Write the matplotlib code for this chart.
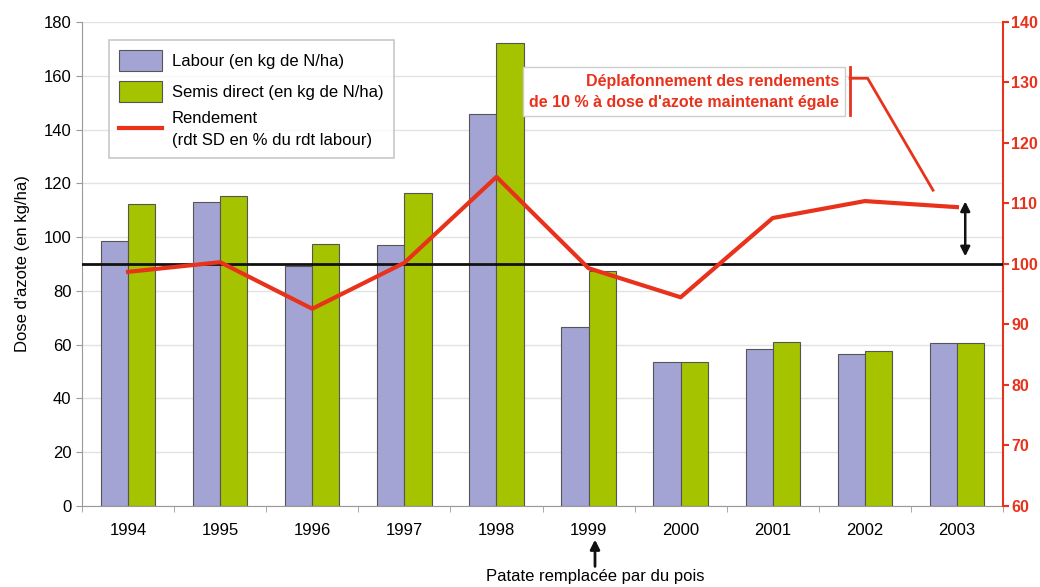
import matplotlib
matplotlib.use("Agg")
import matplotlib.pyplot as plt
import numpy as np

plt.rcParams['font.family'] = ['Liberation Sans', 'DejaVu Sans']

years = ['1994', '1995', '1996', '1997', '1998', '1999', '2000', '2001', '2002', '2003']
labour = [98.5, 113, 89.3, 97, 145.8, 66.6, 53.5, 58.4, 56.5, 60.6]
semis = [112.3, 115.3, 97.4, 116.4, 172.2, 87.4, 53.5, 61, 57.6, 60.6]
rendement = [98.7, 100.3, 92.6, 100.2, 114.4, 99.3, 94.5, 107.6, 110.4, 109.4]

c_lab = '#a4a4d4'
c_sem = '#a6c300'
c_red = '#e8321c'

fig = plt.figure(figsize=(10.4, 5.87), dpi=100)
ax = fig.add_axes([82/1040, 81/587, 921/1040, 484/587])
x = np.arange(len(years))
w = 0.295
ax.bar(x - w/2, labour, w, color=c_lab, edgecolor='#555555', linewidth=0.8, label='Labour (en kg de N/ha)', zorder=2)
ax.bar(x + w/2, semis, w, color=c_sem, edgecolor='#555555', linewidth=0.8, label='Semis direct (en kg de N/ha)', zorder=2)
ax.set_xlim(-0.5, len(years) - 0.5)
ax.set_ylim(0, 180)
ax.set_yticks(np.arange(0, 181, 20))
ax.set_xticks(x)
ax.set_xticklabels(years)
ax.set_xticks(np.arange(-0.5, len(years), 1), minor=True)
ax.tick_params(axis='x', which='major', length=0, pad=12, labelsize=12)
ax.tick_params(axis='x', which='minor', length=4, color='#999999')
ax.tick_params(axis='y', length=4, color='#999999', labelsize=12)
ax.yaxis.grid(True, color='#e2e2e2', linewidth=1, zorder=0)
ax.set_axisbelow(True)
for s in ['top', 'right']:
    ax.spines[s].set_visible(False)
for s in ['left', 'bottom']:
    ax.spines[s].set_color('#999999')
ax.set_ylabel("Dose d'azote (en kg/ha)", fontsize=12, labelpad=10)

ax2 = ax.twinx()
ax2.set_ylim(60, 140)
ax2.set_yticks(np.arange(60, 141, 10))
ax2.axhline(100, color='#111111', linewidth=2, zorder=3)
ln, = ax2.plot(x, rendement, color=c_red, linewidth=3, zorder=4,
               label='Rendement\n(rdt SD en % du rdt labour)')
for s in ['top', 'left', 'bottom']:
    ax2.spines[s].set_visible(False)
ax2.spines['right'].set_color(c_red)
ax2.spines['right'].set_linewidth(1.5)
ax2.tick_params(axis='y', colors=c_red, labelsize=11.5, length=4, width=1.5, pad=2)
for t in ax2.get_yticklabels():
    t.set_fontweight('bold')

h1, l1 = ax.get_legend_handles_labels()
leg = ax2.legend(h1 + [ln], l1 + [ln.get_label()], loc='upper left',
                 bbox_to_anchor=(0.02, 0.98), fontsize=12, frameon=True,
                 fancybox=False, edgecolor='#bbbbbb', handlelength=2.6,
                 handleheight=1.6, borderpad=0.6, labelspacing=0.55,
                 handletextpad=0.6)
leg.get_frame().set_linewidth(1.2)
for t in leg.get_texts():
    t.set_linespacing(1.6)

# annotation box
ax2.text(7.72, 128.5, "Déplafonnement des rendements\nde 10 % à dose d'azote maintenant égale",
         color=c_red, fontsize=11.5, fontweight='bold', ha='right', va='center',
         linespacing=1.5,
         bbox=dict(boxstyle='square,pad=0.4', fc='white', ec='#cccccc', lw=1))
ax2.plot([7.84, 7.84], [124.6, 132.6], color=c_red, lw=2, zorder=5)
ax2.plot([7.84, 8.03, 8.74], [130.7, 130.7, 112.2], color=c_red, lw=2, zorder=5)
ax2.annotate('', xy=(9.09, 110.8), xytext=(9.09, 100.8),
             arrowprops=dict(arrowstyle='<|-|>', color='#111111', lw=1.8, mutation_scale=14))

# bottom annotation
ax.annotate('Patate remplacée par du pois', xy=(5.07, -12.5), xytext=(5.07, -23.5),
            xycoords='data', textcoords='data', ha='center', va='top', fontsize=12,
            annotation_clip=False,
            arrowprops=dict(arrowstyle='-|>', color='#111111', lw=2, mutation_scale=14,
                            shrinkA=0, shrinkB=0))

fig.savefig('out.png', dpi=100)
